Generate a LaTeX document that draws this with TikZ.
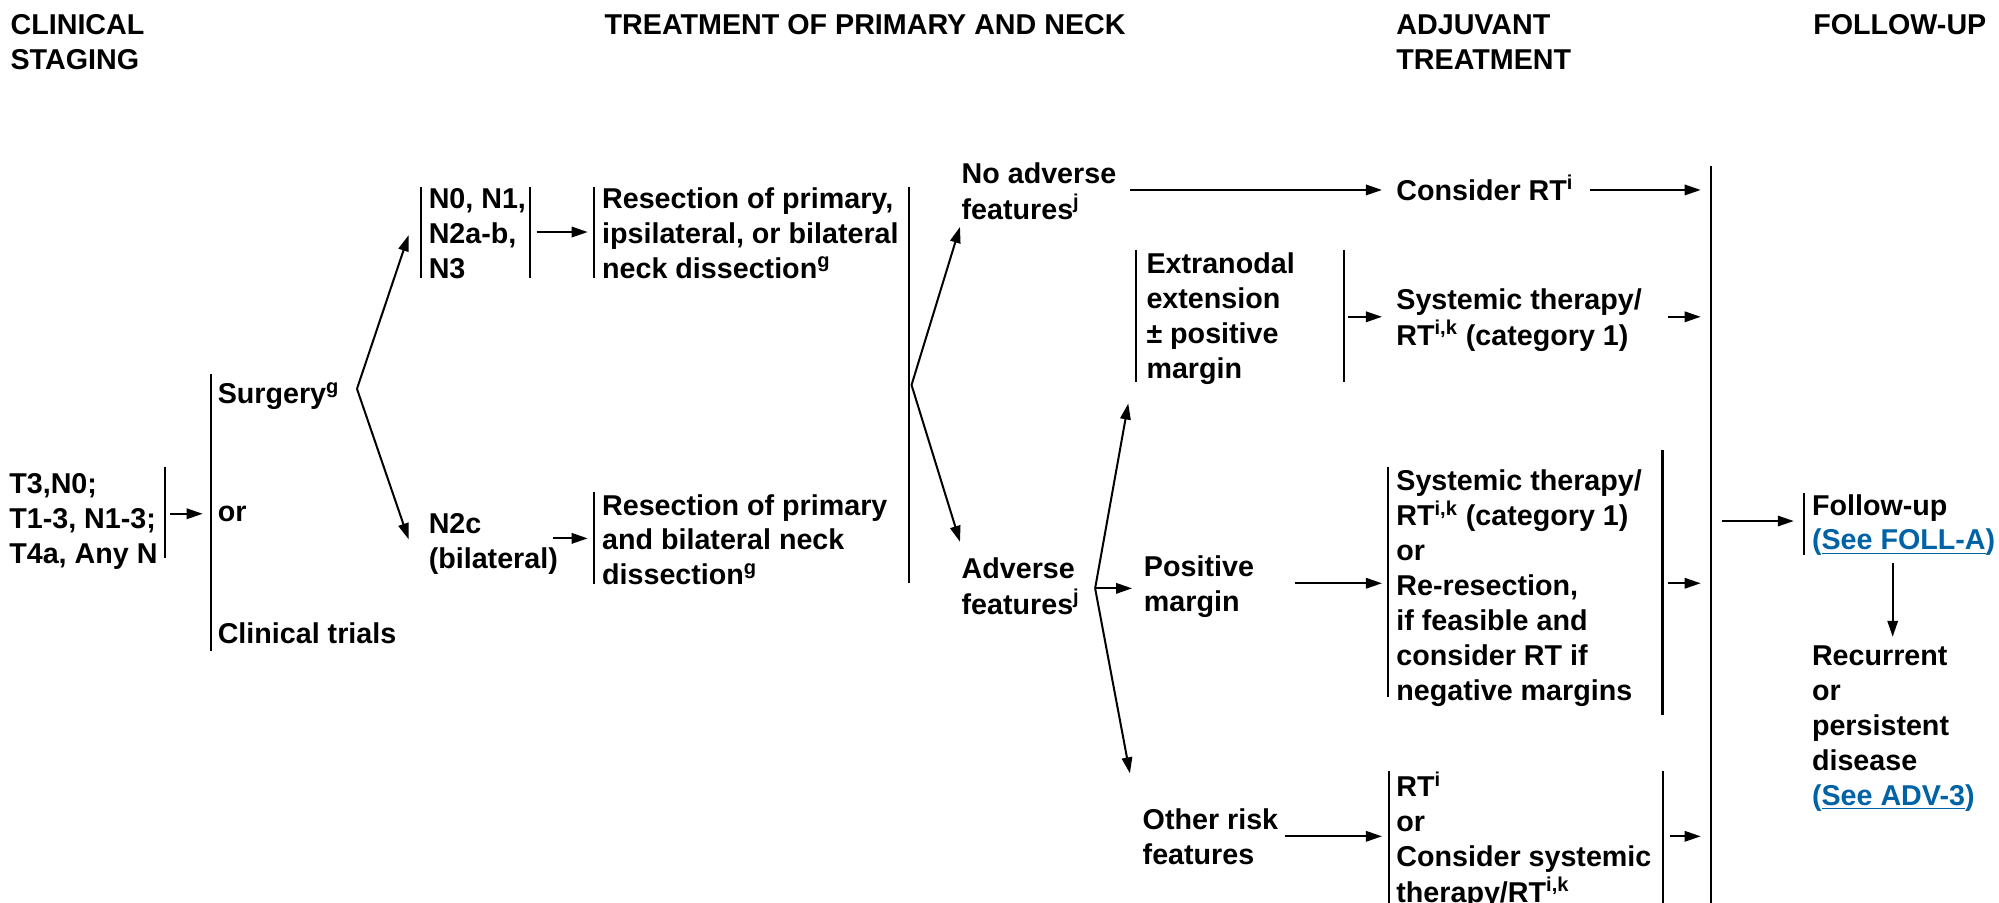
\documentclass[tikz,border=0pt]{standalone}
\usepackage{fontspec}
\setmainfont{Liberation Sans}
\usetikzlibrary{arrows.meta}
\definecolor{linkblue}{RGB}{0,99,166}
\newcommand{\sups}[1]{\textsuperscript{#1}}
\newcommand{\seelink}[1]{\textcolor{linkblue}{(\underline{#1})}}
% stacked lines whose baseline is the first line
\newcommand{\lines}[1]{\begin{tabular}[t]{@{}l@{}}#1\end{tabular}}
\begin{document}
\begin{tikzpicture}[x=0.6375pt,y=-0.6375pt,
  txt/.style={anchor=base west,inner sep=0pt,
    font=\fontsize{14.34}{17.45}\selectfont\bfseries},
  bar/.style={line width=1.1pt},
  arr/.style={line width=1pt,-{Triangle[length=8pt,width=5.2pt]}},
  ln/.style={line width=1pt}]
\useasboundingbox (0,0) rectangle (1568,708);

% column headings
\node[txt] (hstage) at (8,27) {\lines{CLINICAL\\STAGING}};
\node[txt] (htreat) at (474,27) {TREATMENT OF PRIMARY AND NECK};
\node[txt] (hadj)   at (1095,27) {\lines{ADJUVANT\\TREATMENT}};
\node[txt] (hfol)   at (1422,27) {FOLLOW-UP};

% clinical staging
\node[txt] (stage) at (7,387) {\lines{T3,N0;\\T1-3, N1-3;\\T4a, Any N}};
\draw[bar] (129.5,366) coordinate (stgT) -- (129.5,438) coordinate (stgB);
\coordinate (stgOut) at (133.5,403);
\coordinate (optIn) at (159,403);
\draw[arr] (stgOut) -- (optIn);

% primary treatment options
\draw[bar] (165.5,293) coordinate (optT) -- (165.5,511) coordinate (optB);
\node[txt] (surg)   at (170.5,316.5) {Surgery\sups{g}};
\node[txt] (or1)    at (170.5,409) {or};
\node[txt] (trials) at (170.5,505) {Clinical trials};

\coordinate (surgV) at (280,305);
\coordinate (n0tip) at (320.5,184.5);
\coordinate (n2ctip) at (320.5,423);
\draw[arr] (surgV) -- (n0tip);
\draw[arr] (surgV) -- (n2ctip);

% nodal status
\draw[bar] (330.3,147) -- (330.3,218);
\node[txt] (n0) at (336,163.6) {\lines{N0, N1,\\N2a-b,\\N3}};
\draw[bar] (416,147) -- (416,218);
\coordinate (n0Out) at (421,182);
\coordinate (res1In) at (461,182);
\draw[arr] (n0Out) -- (res1In);

\node[txt] (n2c) at (336,418.5) {\lines{N2c\\(bilateral)}};
\coordinate (n2cOut) at (433.7,422.3);
\coordinate (res2In) at (461,422.3);
\draw[arr] (n2cOut) -- (res2In);

% surgical procedures
\draw[bar] (466,147) -- (466,218);
\node[txt] (res1) at (472,163.6) {\lines{Resection of primary,\\ipsilateral, or bilateral\\neck dissection\sups{g}}};
\draw[bar] (466,386) -- (466,458);
\node[txt] (res2) at (472,404) {\lines{Resection of primary\\and bilateral neck\\dissection\sups{g}}};

\draw[bar] (712.7,146.5) coordinate (surgT) -- (712.7,457.5) coordinate (surgB);

% pathological findings
\coordinate (pathV) at (715,302);
\coordinate (noAdvTip) at (753,178);
\coordinate (advTip) at (753,425);
\draw[arr] (pathV) -- (noAdvTip);
\draw[arr] (pathV) -- (advTip);

\node[txt] (noadv) at (754,144) {\lines{No adverse\\features\sups{j}}};
\node[txt] (adv) at (754,454) {\lines{Adverse\\features\sups{j}}};

\coordinate (advV) at (859,461.5);
\coordinate (extTip) at (885,316.5);
\coordinate (posTip) at (888,461.5);
\coordinate (othTip) at (886.3,606.6);
\draw[arr] (advV) -- (extTip);
\draw[arr] (advV) -- (posTip);
\draw[arr] (advV) -- (othTip);

\draw[bar] (891,196) -- (891,300);
\node[txt] (ext) at (899,214.5) {\lines{Extranodal\\extension\\\char"00B1\ positive\\margin}};
\draw[bar] (1054,196) -- (1054,300);

\node[txt] (pos) at (897,452) {\lines{Positive\\margin}};
\node[txt] (oth) at (896,651) {\lines{Other risk\\features}};

% adjuvant treatment
\coordinate (noadvOut) at (886,149);
\coordinate (crtIn) at (1084,149);
\draw[arr] (noadvOut) -- (crtIn);
\node[txt] (crt) at (1095,157) {Consider RT\sups{i}};

\coordinate (extOut) at (1057.6,248.5);
\coordinate (sysIn) at (1084,248.5);
\draw[arr] (extOut) -- (sysIn);
\node[txt] (sys1) at (1095,243) {\lines{Systemic therapy/\\RT\sups{i,k} (category 1)}};

\coordinate (posOut) at (1015.8,457.5);
\coordinate (sys2In) at (1084,457.5);
\draw[arr] (posOut) -- (sys2In);
\draw[bar] (1089,366) -- (1089,546.5);
\node[txt] (sys2) at (1095,384.5) {\lines{Systemic therapy/\\RT\sups{i,k} (category 1)\\or\\Re-resection,\\if feasible and\\consider RT if\\negative margins}};
\draw[bar] (1304,353) -- (1304,561);

\coordinate (othOut) at (1008,656);
\coordinate (rtIn) at (1084,656);
\draw[arr] (othOut) -- (rtIn);
\draw[bar] (1089.3,605) -- (1089.3,708);
\node[txt] (rt) at (1095,625) {\lines{RT\sups{i}\\or\\Consider systemic\\therapy/RT\sups{i,k}}};
\draw[bar] (1304.3,605) -- (1304.3,708);

% arrows into the follow-up bracket
\draw[bar] (1342,130.5) coordinate (adjT) -- (1342,708) coordinate (adjB);
\coordinate (crtOut) at (1247,149);
\coordinate (adj1) at (1334,149);
\draw[arr] (crtOut) -- (adj1);
\coordinate (sys1Out) at (1308,248.5);
\coordinate (adj2) at (1334,248.5);
\draw[arr] (sys1Out) -- (adj2);
\coordinate (sys2Out) at (1308.6,457.5);
\coordinate (adj3) at (1334,457.5);
\draw[arr] (sys2Out) -- (adj3);
\coordinate (rtOut) at (1310,656);
\coordinate (adj4) at (1334,656);
\draw[arr] (rtOut) -- (adj4);

% follow-up
\coordinate (adjOut) at (1350.4,408.7);
\coordinate (folIn) at (1407,408.7);
\draw[arr] (adjOut) -- (folIn);
\draw[bar] (1415,387) -- (1415,435);
\node[txt] (fol) at (1421,404) {\lines{Follow-up\\\seelink{See FOLL-A}}};
\coordinate (folOut) at (1484.6,442);
\coordinate (recIn) at (1484.6,499.5);
\draw[arr] (folOut) -- (recIn);
\node[txt] (rec) at (1421,522) {\lines{Recurrent\\or\\persistent\\disease\\\seelink{See ADV-3}}};
\end{tikzpicture}
\end{document}
